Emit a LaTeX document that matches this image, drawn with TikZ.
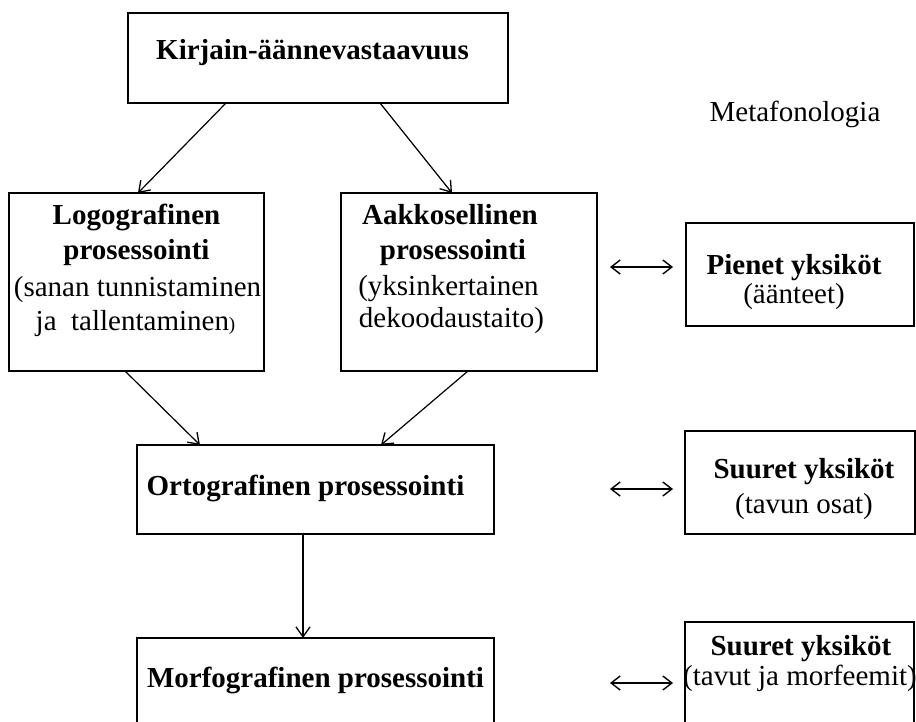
\documentclass[tikz,border=0pt]{standalone}
\usepackage{fontspec}
\setmainfont{Liberation Serif}
\usetikzlibrary{arrows.meta,calc}
\begin{document}
\begin{tikzpicture}[x=1pt,y=-1pt,
  boxstyle/.style={draw, line width=1.4pt, inner sep=0pt, outer sep=0pt},
  txt/.style={inner sep=0pt, anchor=base, font=\fontsize{29}{35}\selectfont},
  btxt/.style={inner sep=0pt, anchor=base, font=\fontsize{29}{35}\selectfont\bfseries},
  arr/.style={line width=1.2pt, -{Straight Barb[length=10pt,width=14pt,line width=1.3pt]}},
  darr/.style={line width=1.3pt, {Straight Barb[length=9pt,width=14pt,line width=1.4pt]}-{Straight Barb[length=9pt,width=14pt,line width=1.4pt]}}]
\useasboundingbox (0,0) rectangle (916,722);
\clip (0,0) rectangle (916,722);
\fill[white] (0,0) rectangle (916,722);

% boxes
\node[boxstyle, minimum width=380pt, minimum height=90pt] (k) at (318,58) {};
\node[boxstyle, minimum width=255pt, minimum height=178pt] (logo) at (136.5,282) {};
\node[boxstyle, minimum width=256pt, minimum height=178pt] (aak) at (469,282) {};
\node[boxstyle, minimum width=228pt, minimum height=103pt] (pien) at (800,274.5) {};
\node[boxstyle, minimum width=357pt, minimum height=89pt] (orto) at (315.5,489.5) {};
\node[boxstyle, minimum width=230pt, minimum height=103pt] (suur1) at (800,482.5) {};
\node[boxstyle, minimum width=357pt, minimum height=122pt] (morf) at (315.5,699) {};
\node[boxstyle, minimum width=229pt, minimum height=138pt] (suur2) at (799.5,691) {};

% texts
\node[btxt] (kt) at (312.5,60) {Kirjain-äännevastaavuus};
\node[txt] (meta) at (795,122) {Metafonologia};

\node[btxt] (logo1) at (136.5,225) {Logografinen};
\node[btxt] (logo2) at (136.5,260) {prosessointi};
\node[txt] (logo3) at (137.5,297) {(sanan tunnistaminen};
\node[txt] (logo4) at (135.5,330) {ja\hspace{0.5em}tallentaminen{\fontsize{19}{20}\selectfont )}};

\node[btxt] (aak1) at (450,225) {Aakkosellinen};
\node[btxt] (aak2) at (453,260) {prosessointi};
\node[txt] (aak3) at (448.5,295) {(yksinkertainen};
\node[txt] (aak4) at (451.5,327) {dekoodaustaito)};

\node[btxt] (pien1) at (794,275) {Pienet yksiköt};
\node[txt] (pien2) at (794,303) {(äänteet)};

\node[btxt] (ortot) at (305.5,495) {Ortografinen prosessointi};

\node[btxt] (suur1a) at (804,478) {Suuret yksiköt};
\node[txt] (suur1b) at (804,513) {(tavun osat)};

\node[btxt] (morft) at (315.5,687) {Morfografinen prosessointi};

\node[btxt] (suur2a) at (801,655) {Suuret yksiköt};
\node[txt] (suur2b) at (800,685) {(tavut ja morfeemit)};

% connector end points
\coordinate (ks1) at ($(k.south west)+(98,0)$);
\coordinate (ks2) at ($(k.south west)+(252,0)$);
\coordinate (logon) at ($(logo.north west)+(129,0)$);
\coordinate (aakn) at ($(aak.north west)+(111,0)$);
\coordinate (logos) at ($(logo.south west)+(116,0)$);
\coordinate (aaks) at ($(aak.south west)+(127,0)$);
\coordinate (orton1) at ($(orto.north west)+(63,0)$);
\coordinate (orton2) at ($(orto.north west)+(244,0)$);
\coordinate (ortos) at ($(orto.south west)+(166,0)$);
\coordinate (morfn) at ($(morf.north west)+(166,0)$);

\coordinate (d1a) at (610,267);
\coordinate (d1b) at (673,267);
\coordinate (d2a) at (610,489);
\coordinate (d2b) at (673,489);
\coordinate (d3a) at (610,683);
\coordinate (d3b) at (673,683);

% connectors
\draw[arr] (ks1) -- (logon);
\draw[arr] (ks2) -- (aakn);
\draw[arr] (logos) -- (orton1);
\draw[arr] (aaks) -- (orton2);
\draw[arr] (ortos) -- (morfn);
\draw[darr] (d1a) -- (d1b);
\draw[darr] (d2a) -- (d2b);
\draw[darr] (d3a) -- (d3b);
\end{tikzpicture}
\end{document}
